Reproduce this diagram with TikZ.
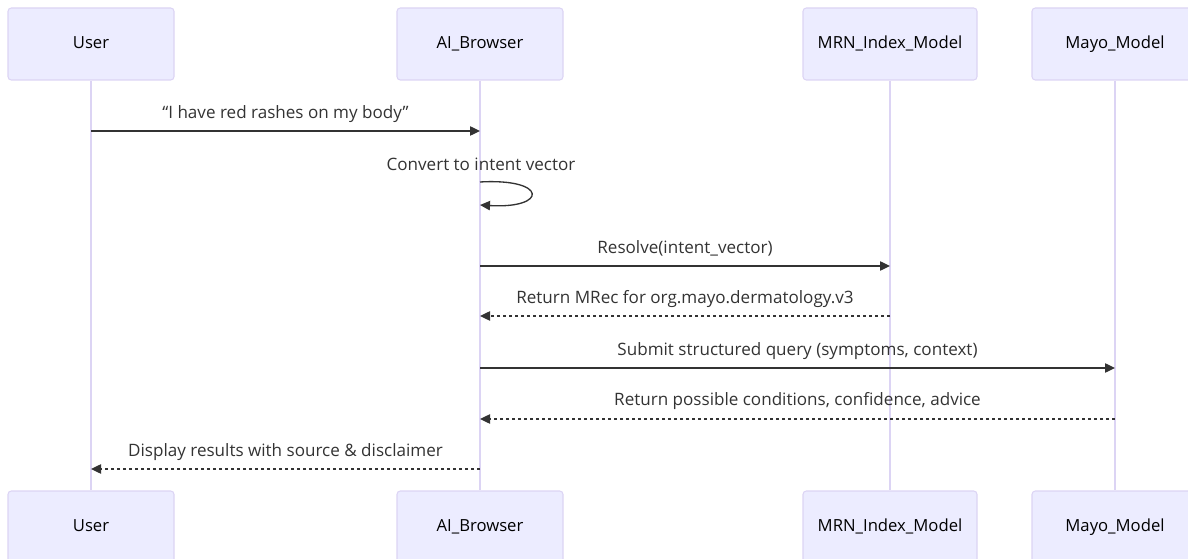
\documentclass[tikz,border=0pt]{standalone}
\usepackage{fontspec}
\setmainfont{Open Sans}
\usetikzlibrary{arrows.meta,positioning}

\definecolor{actfill}{HTML}{ECECFF}
\definecolor{actedge}{HTML}{DCD4F4}
\definecolor{inkgray}{HTML}{333333}

\begin{document}
\begin{tikzpicture}[x=0.75pt,y=-0.75pt,
    actor/.style={draw=actedge,fill=actfill,rounded corners=2.5pt,line width=0.8pt,
      minimum width=124.5pt,minimum height=54pt,text=black,text height=9pt,text depth=2.6pt,
      font=\fontsize{12.5}{15}\selectfont},
    lifeline/.style={draw=actedge,line width=1pt},
    msg/.style={draw=inkgray,line width=1pt,-{Triangle[length=7.5pt,width=7pt]}},
    reply/.style={msg,dash pattern=on 2.25pt off 2.25pt},
    lbl/.style={text=inkgray,font=\fontsize{12.8}{15}\selectfont,inner sep=1pt}]
  \useasboundingbox (0,0) rectangle (1188,559);
  \clip (0,0) rectangle (1188,559);

  % participants, top and bottom
  \node[actor] (user) at (91,44) {User};
  \node[actor] (browser) at (480,44) {AI\_Browser};
  \node[actor,minimum width=130.5pt] (index) at (890,44) {MRN\_Index\_Model};
  \node[actor] (mayo) at (1115,44) {Mayo\_Model};
  \node[actor] (userB) at (91,527) {User};
  \node[actor] (browserB) at (480,527) {AI\_Browser};
  \node[actor,minimum width=130.5pt] (indexB) at (890,527) {MRN\_Index\_Model};
  \node[actor] (mayoB) at (1115,527) {Mayo\_Model};

  \draw[lifeline] (user) -- (userB);
  \draw[lifeline] (browser) -- (browserB);
  \draw[lifeline] (index) -- (indexB);
  \draw[lifeline] (mayo) -- (mayoB);

  % messages
  \draw[msg] (user |- 0,131) -- (browser |- 0,131)
    node[lbl,midway,yshift=13pt] (m1) {“I have red rashes on my body”};
  \node[lbl] (m2) at (481,164) {Convert to intent vector};
  \coordinate (loopA) at (browser |- 0,182);
  \coordinate (loopB) at (browser |- 0,205);
  \draw[msg] (loopA) .. controls (548,178) and (548,209) .. (loopB);
  \draw[msg] (browser |- 0,266) -- (index |- 0,266)
    node[lbl,midway,yshift=13.5pt] (m3) {Resolve(intent\_vector)};
  \draw[reply] (index |- 0,316) -- (browser |- 0,316)
    node[lbl,midway,yshift=13pt] (m4) {Return MRec for org.mayo.dermatology.v3};
  \draw[msg] (browser |- 0,368) -- (mayo |- 0,368)
    node[lbl,midway,yshift=13pt] (m5) {Submit structured query (symptoms, context)};
  \draw[reply] (mayo |- 0,419) -- (browser |- 0,419)
    node[lbl,midway,yshift=13.5pt] (m6) {Return possible conditions, confidence, advice};
  \draw[reply] (browser |- 0,469) -- (user |- 0,469)
    node[lbl,midway,yshift=12.5pt] (m7) {Display results with source \& disclaimer};
\end{tikzpicture}
\end{document}
